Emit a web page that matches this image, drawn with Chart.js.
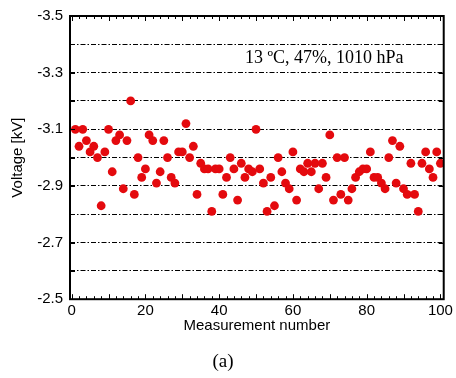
<!DOCTYPE html>
<html>
<head>
<meta charset="utf-8">
<script src="https://cdn.jsdelivr.net/npm/chart.js@4/dist/chart.umd.min.js"></script>
<style>
  body { margin: 0; background: #fff; }
  #wrap { position: relative; width: 456px; height: 378px; }
</style>
</head>
<body>
<div id="wrap"><canvas id="voltChart"></canvas></div>
<script>
const voltage = [
  -3.10, -3.04, -3.10, -3.06, -3.02, -3.04, -3.00, -2.83, -3.02, -3.10,
  -2.95, -3.06, -3.08, -2.89, -3.06, -3.20, -2.87, -3.00, -2.93, -2.96,
  -3.08, -3.06, -2.91, -2.95, -3.06, -3.00, -2.93, -2.91, -3.02, -3.02,
  -3.12, -3.00, -3.04, -2.87, -2.98, -2.96, -2.96, -2.81, -2.96, -2.96,
  -2.87, -2.93, -3.00, -2.96, -2.85, -2.98, -2.93, -2.96, -2.95, -3.10,
  -2.96, -2.91, -2.81, -2.93, -2.83, -3.00, -2.95, -2.91, -2.89, -3.02,
  -2.85, -2.96, -2.95, -2.98, -2.95, -2.98, -2.89, -2.98, -2.93, -3.08,
  -2.85, -3.00, -2.87, -3.00, -2.85, -2.89, -2.93, -2.95, -2.96, -2.96,
  -3.02, -2.93, -2.93, -2.91, -2.89, -3.00, -3.06, -2.91, -3.04, -2.89,
  -2.87, -2.98, -2.87, -2.81, -2.98, -3.02, -2.96, -2.93, -3.02, -2.98
];
const xTickValues = [0, 20, 40, 60, 80, 100];
const yTickValues = [-3.5, -3.4, -3.3, -3.2, -3.1, -3.0, -2.9, -2.8, -2.7, -2.6, -2.5];
const yLabelValues = [-3.5, -3.3, -3.1, -2.9, -2.7, -2.5];
const noteText = '13 \u00baC, 47%, 1010 hPa';

const points = voltage.map((v, i) => ({ x: i + 1, y: v }));

// frame, inward tick marks and the conditions note
const framePlugin = {
  id: 'frame',
  afterDraw(chart) {
    const ctx = chart.ctx;
    const a = chart.chartArea;
    const xs = chart.scales.x;
    const ys = chart.scales.y;
    ctx.save();
    ctx.strokeStyle = '#000';
    ctx.lineWidth = 1;
    // x minor ticks every 2, longer every 10
    for (let v = 0; v <= 100; v += 2) {
      const px = Math.round(xs.getPixelForValue(v)) + 0.5;
      const len = v % 10 === 0 ? 5 : 3;
      ctx.beginPath();
      ctx.moveTo(px, a.bottom); ctx.lineTo(px, a.bottom - len);
      ctx.moveTo(px, a.top); ctx.lineTo(px, a.top + len);
      ctx.stroke();
    }
    yTickValues.forEach(v => {
      const py = Math.round(ys.getPixelForValue(v)) + 0.5;
      ctx.beginPath();
      ctx.moveTo(a.left, py); ctx.lineTo(a.left + 5, py);
      ctx.moveTo(a.right, py); ctx.lineTo(a.right - 5, py);
      ctx.stroke();
    });
    ctx.lineWidth = 2;
    ctx.strokeRect(a.left, a.top, a.right - a.left, a.bottom - a.top);
    // note
    ctx.fillStyle = '#000';
    ctx.font = '18px "Liberation Serif", "Times New Roman", serif';
    ctx.textAlign = 'left';
    ctx.textBaseline = 'middle';
    ctx.fillText(noteText, xs.getPixelForValue(47), ys.getPixelForValue(-3.35));
    ctx.restore();
  }
};

const sansFont = { family: '"Liberation Sans", Arial, sans-serif', size: 15 };

new Chart(document.getElementById('voltChart'), {
  type: 'scatter',
  data: {
    datasets: [{
      data: points,
      backgroundColor: 'rgb(228, 10, 14)',
      borderWidth: 0,
      pointRadius: 4.4,
      pointHoverRadius: 4.4
    }]
  },
  options: {
    responsive: true,
    maintainAspectRatio: false,
    animation: false,
    layout: { padding: { top: 16, right: 10, left: 0, bottom: 0 } },
    plugins: {
      legend: { display: false },
      tooltip: { enabled: false },
      title: {
        display: true,
        position: 'bottom',
        text: '(a)',
        color: '#000',
        font: { family: '"Liberation Serif", "Times New Roman", serif', size: 19, weight: 'normal' },
        padding: { top: 3, bottom: 5 }
      }
    },
    scales: {
      x: {
        type: 'linear',
        min: -0.45,
        max: 100.9,
        afterBuildTicks: s => { s.ticks = xTickValues.map(v => ({ value: v })); },
        afterFit: s => { s.height = 48; },
        grid: { display: false, drawTicks: false },
        border: { display: false },
        ticks: { color: '#000', font: sansFont, padding: 3, maxRotation: 0 },
        title: {
          display: true,
          text: 'Measurement number',
          color: '#000',
          font: sansFont,
          padding: { top: 0, bottom: 12 }
        }
      },
      y: {
        type: 'linear',
        reverse: true,
        min: -3.5,
        max: -2.5,
        afterBuildTicks: s => { s.ticks = yTickValues.map(v => ({ value: v })); },
        afterFit: s => { s.width = 70; },
        grid: {
          drawTicks: false,
          color: c => (c.tick && (c.tick.value === -3.5 || c.tick.value === -2.5)) ? 'rgba(0,0,0,0)' : '#000',
          lineWidth: 1
        },
        border: { display: false, dash: [5, 2, 1.5, 2] },
        ticks: {
          color: '#000',
          font: sansFont,
          padding: 7,
          callback: v => yLabelValues.some(l => Math.abs(l - v) < 1e-6) ? v.toFixed(1) : ''
        },
        title: {
          display: true,
          text: 'Voltage [kV]',
          color: '#000',
          font: sansFont,
          padding: { top: 9, bottom: 0 }
        }
      }
    }
  },
  plugins: [framePlugin]
});
</script>
</body>
</html>
